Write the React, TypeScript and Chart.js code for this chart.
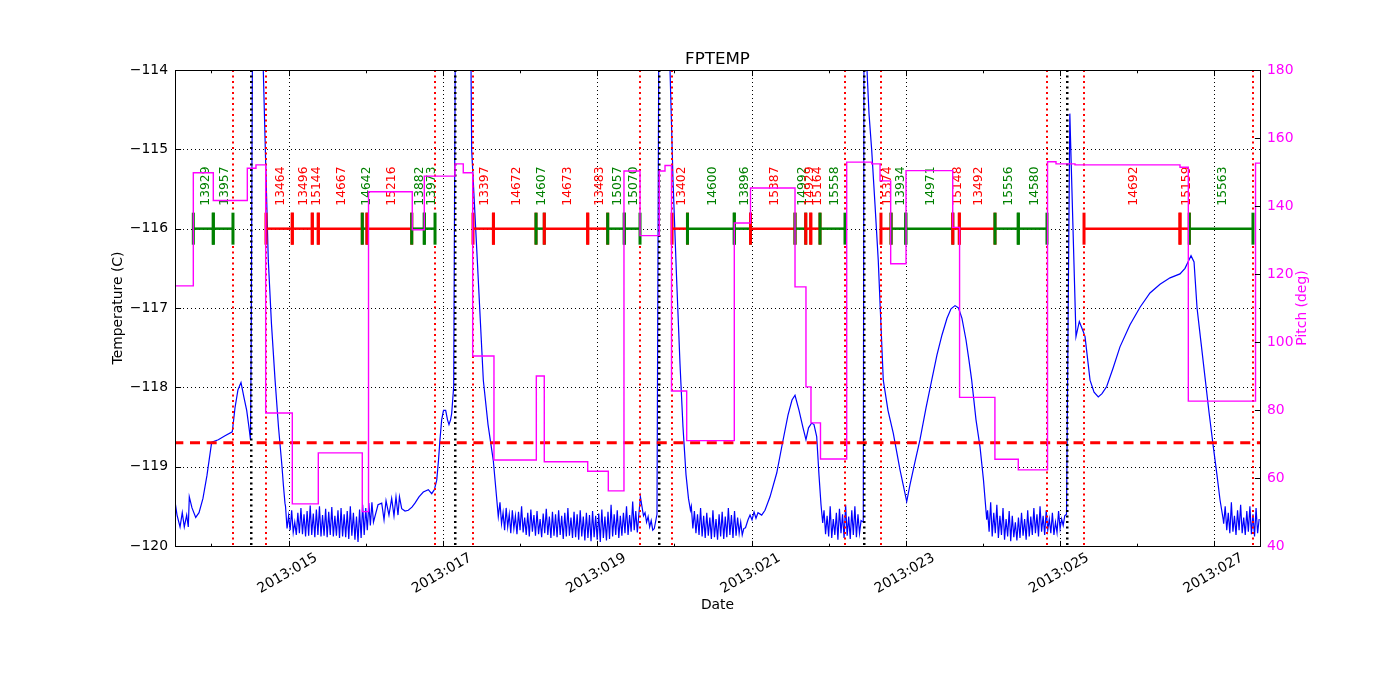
import React, { useEffect, useRef } from 'react';
import { Chart, registerables } from 'chart.js';

Chart.register(...registerables);

const FONT = 'DejaVu Sans';
const RED = '#ff0000';
const GREEN = '#008000';
const BLUE = '#0000ff';
const MAGENTA = '#ff00ff';

// ---- Date axis (day of year, 2013) ----
const X_MIN = 13.5276;
const X_MAX = 27.591;
const majorDays = [15, 17, 19, 21, 23, 25, 27];
const majorLabels = ['2013:015', '2013:017', '2013:019', '2013:021', '2013:023', '2013:025', '2013:027'];
const minorDays = [14, 16, 18, 20, 22, 24, 26];

// ---- Value axes ----
const tempTicks = [-120, -119, -118, -117, -116, -115, -114];
const pitchTicks = [40, 60, 80, 100, 120, 140, 160, 180];

const LIMIT_TEMP = -118.7;
const SEGMENT_TEMP = -116;

// ---- Event lines ----
const redLineDays = [14.279, 14.707, 16.898, 17.39, 19.555, 19.97, 22.212, 22.678, 24.83, 25.31, 27.5];
const blackLineDays = [14.513, 17.157, 19.801, 22.458, 25.089];

// ---- Observation segments ----
const segStarts = [13.765, 14.024, 14.707, 15.048, 15.307, 15.385, 15.955, 16.016, 16.596, 16.759, 17.39, 17.655, 18.207, 18.314, 18.877, 19.136, 19.351, 19.97, 20.17, 20.777, 20.987, 21.564, 21.703, 21.768, 21.888, 22.678, 22.809, 23.0, 23.609, 23.694, 24.156, 24.458, 25.31, 26.554, 26.675];
const segEnds = [14.024, 14.279, 15.048, 15.307, 15.385, 15.955, 16.016, 16.596, 16.759, 16.898, 17.655, 18.207, 18.314, 18.877, 19.136, 19.351, 19.555, 20.17, 20.777, 20.987, 21.564, 21.703, 21.768, 21.888, 22.212, 22.809, 23.0, 23.609, 23.694, 24.156, 24.458, 24.83, 26.554, 26.675, 27.5];
const segObsids = ['13929', '13957', '13464', '13496', '15144', '14667', '14642', '15216', '13882', '13973', '13397', '14672', '14607', '14673', '13483', '15057', '15070', '13402', '14600', '13896', '15387', '14992', '14929', '15164', '15558', '15374', '13934', '14971', '15148', '13492', '15556', '14580', '14692', '15159', '15563'];
const segKinds = ['g', 'g', 'r', 'r', 'r', 'r', 'g', 'r', 'g', 'g', 'r', 'r', 'g', 'r', 'r', 'g', 'g', 'r', 'g', 'g', 'r', 'g', 'r', 'r', 'g', 'r', 'g', 'g', 'r', 'r', 'g', 'g', 'r', 'r', 'g'];

// ---- Pitch (deg), step changes: day, value ----
const pitchDays = [13.528, 13.765, 14.024, 14.465, 14.577, 14.703, 15.048, 15.385, 15.955, 16.036, 16.603, 16.759, 17.157, 17.264, 17.386, 17.662, 18.211, 18.314, 18.877, 19.144, 19.347, 19.555, 19.805, 19.879, 19.963, 20.16, 20.777, 20.987, 21.564, 21.706, 21.771, 21.894, 22.234, 22.558, 22.666, 22.804, 23.003, 23.608, 23.697, 24.155, 24.458, 24.837, 24.947, 25.193, 26.554, 26.662, 27.533, 27.591];
const pitchVals = [116.5, 149.8, 141.6, 151.1, 152.1, 79.1, 52.4, 67.4, 50.1, 144.2, 133.0, 148.8, 152.4, 149.8, 95.9, 65.3, 90.0, 64.8, 62.0, 56.2, 150.3, 131.3, 150.3, 151.9, 85.6, 71.0, 135.0, 145.3, 116.2, 86.8, 76.2, 65.6, 152.9, 152.4, 147.4, 123.0, 150.4, 133.7, 83.7, 65.5, 62.4, 153.0, 152.4, 152.1, 151.4, 82.6, 152.6, 152.6];

// ---- Temperature (C): slow-varying samples [day, value] ----
const tempPass1: [number, number][] = [
  [13.528, -119.44], [13.554, -119.61], [13.593, -119.76], [13.622, -119.58], [13.648, -119.76], [13.679, -119.61],
  [13.7, -119.76], [13.713, -119.38], [13.748, -119.52], [13.796, -119.64], [13.839, -119.58], [13.89, -119.4],
  [13.942, -119.11], [14.003, -118.69], [14.089, -118.66], [14.176, -118.61], [14.27, -118.56], [14.305, -118.26],
  [14.344, -118.03], [14.383, -117.94], [14.422, -118.13], [14.457, -118.29], [14.487, -118.51], [14.506, -118.66],
  [14.515, -117.5], [14.539, -112.0], [14.59, -104.0], [14.672, -114.0], [14.701, -115.1], [14.737, -116.4],
  [14.778, -117.2], [14.824, -117.9], [14.869, -118.5], [14.911, -118.96], [14.934, -119.25], [14.953, -119.46],
];
const tempPass2: [number, number][] = [
  [16.159, -119.48], [16.207, -119.46], [16.237, -119.67], [16.263, -119.43], [16.301, -119.61], [16.336, -119.4],
  [16.366, -119.62], [16.392, -119.38], [16.418, -119.61], [16.437, -119.38], [16.466, -119.53], [16.509, -119.56],
  [16.552, -119.55], [16.599, -119.51], [16.638, -119.46], [16.69, -119.38], [16.746, -119.32], [16.811, -119.29],
  [16.855, -119.34], [16.889, -119.29], [16.92, -119.17], [16.943, -118.92], [16.962, -118.66], [16.984, -118.41],
  [17.008, -118.29], [17.036, -118.29], [17.06, -118.41], [17.079, -118.47], [17.099, -118.41], [17.114, -118.33],
  [17.14, -117.99], [17.235, -98.0], [17.373, -115.01], [17.446, -116.4], [17.524, -117.91], [17.585, -118.47],
  [17.653, -118.92], [17.688, -119.3], [17.718, -119.63],
];
const tempPass3: [number, number][] = [
  [19.775, -119.6], [19.86, -98.0], [19.944, -114.0], [19.983, -115.4], [20.028, -116.6], [20.073, -117.7],
  [20.112, -118.5], [20.151, -119.1], [20.183, -119.4], [20.209, -119.55],
];
const tempPass4: [number, number][] = [
  [20.922, -119.77], [20.955, -119.67], [20.981, -119.61], [21.007, -119.67], [21.033, -119.57], [21.058, -119.65],
  [21.084, -119.58], [21.132, -119.61], [21.175, -119.55], [21.24, -119.38], [21.327, -119.08], [21.396, -118.73],
  [21.473, -118.35], [21.525, -118.16], [21.564, -118.1], [21.616, -118.29], [21.668, -118.51], [21.706, -118.66],
  [21.739, -118.51], [21.78, -118.45], [21.81, -118.47], [21.845, -118.62], [21.875, -119.11], [21.901, -119.48],
  [21.923, -119.71],
];
const tempPass5: [number, number][] = [
  [22.449, -119.7], [22.475, -102.0], [22.497, -114.0], [22.523, -114.55], [22.558, -115.01], [22.601, -115.7],
  [22.643, -116.4], [22.708, -117.91], [22.769, -118.29], [22.838, -118.58], [22.925, -119.04], [23.012, -119.44],
  [23.054, -119.23], [23.119, -118.94], [23.184, -118.66], [23.262, -118.26], [23.336, -117.91], [23.404, -117.59],
  [23.469, -117.34], [23.534, -117.13], [23.586, -117.01], [23.638, -116.97], [23.683, -117.0], [23.728, -117.13],
  [23.78, -117.4], [23.819, -117.66], [23.854, -117.91], [23.91, -118.41], [23.962, -118.75], [24.007, -119.17],
  [24.049, -119.67],
];
const tempPass6: [number, number][] = [
  [25.083, -119.6], [25.126, -114.55], [25.206, -117.36], [25.249, -117.17], [25.301, -117.3], [25.323, -117.36],
  [25.388, -117.91], [25.44, -118.06], [25.495, -118.12], [25.543, -118.08], [25.604, -117.99], [25.686, -117.76],
  [25.776, -117.49], [25.906, -117.21], [26.036, -116.99], [26.165, -116.81], [26.295, -116.7], [26.425, -116.62],
  [26.554, -116.57], [26.619, -116.5], [26.658, -116.42], [26.697, -116.34], [26.736, -116.42], [26.775, -117.0],
  [26.827, -117.44], [26.879, -117.88], [26.931, -118.32], [26.986, -118.75], [27.034, -119.11], [27.073, -119.42],
  [27.115, -119.67],
];

// ---- Temperature (C): fast telemetry samples every NOISE_STEP days ----
const NOISE_STEP = 0.02;
const noise1Start = 14.96;
const noise1 = [-119.5, -119.78, -119.62, -119.8, -119.55, -119.83, -119.7, -119.86, -119.58, -119.84, -119.52, -119.85, -119.6, -119.88, -119.56, -119.87, -119.49, -119.86, -119.59, -119.89, -119.54, -119.86, -119.5, -119.88, -119.61, -119.87, -119.53, -119.89, -119.57, -119.86, -119.51, -119.88, -119.62, -119.87, -119.55, -119.9, -119.52, -119.88, -119.6, -119.89, -119.56, -119.91, -119.5, -119.87, -119.58, -119.92, -119.63, -119.95, -119.54, -119.9, -119.48, -119.86, -119.52, -119.8, -119.46, -119.74, -119.45, -119.7];
const noise2Start = 17.74;
const noise2 = [-119.45, -119.72, -119.58, -119.8, -119.52, -119.76, -119.6, -119.84, -119.55, -119.78, -119.62, -119.85, -119.57, -119.8, -119.5, -119.83, -119.64, -119.86, -119.58, -119.88, -119.54, -119.82, -119.61, -119.87, -119.56, -119.85, -119.66, -119.89, -119.59, -119.84, -119.53, -119.86, -119.63, -119.9, -119.57, -119.87, -119.6, -119.89, -119.55, -119.86, -119.62, -119.91, -119.58, -119.88, -119.52, -119.87, -119.64, -119.9, -119.57, -119.89, -119.6, -119.92, -119.55, -119.88, -119.63, -119.93, -119.58, -119.9, -119.61, -119.94, -119.56, -119.89, -119.62, -119.92, -119.59, -119.95, -119.54, -119.9, -119.63, -119.93, -119.57, -119.91, -119.48, -119.88, -119.6, -119.86, -119.55, -119.9, -119.62, -119.87, -119.58, -119.84, -119.5, -119.86, -119.61, -119.82, -119.44, -119.8, -119.56, -119.83, -119.6, -119.38, -119.5, -119.62, -119.58, -119.7, -119.63, -119.76, -119.68, -119.8, -119.78];
const noise3Start = 20.22;
const noise3 = [-119.5, -119.78, -119.56, -119.84, -119.6, -119.86, -119.52, -119.88, -119.62, -119.9, -119.58, -119.87, -119.64, -119.91, -119.55, -119.89, -119.66, -119.92, -119.6, -119.88, -119.57, -119.91, -119.63, -119.89, -119.52, -119.86, -119.61, -119.9, -119.56, -119.87, -119.64, -119.84, -119.7, -119.86, -119.78];
const noise4Start = 21.94;
const noise4 = [-119.55, -119.85, -119.62, -119.88, -119.5, -119.9, -119.66, -119.86, -119.58, -119.92, -119.53, -119.84, -119.6, -119.9, -119.48, -119.87, -119.63, -119.91, -119.55, -119.86, -119.5, -119.89, -119.6, -119.84, -119.68];
const noise5Start = 24.06;
const noise5 = [-119.55, -119.82, -119.45, -119.88, -119.58, -119.84, -119.48, -119.9, -119.62, -119.86, -119.52, -119.92, -119.66, -119.88, -119.56, -119.94, -119.62, -119.89, -119.7, -119.93, -119.64, -119.9, -119.58, -119.87, -119.66, -119.92, -119.55, -119.88, -119.63, -119.86, -119.52, -119.84, -119.6, -119.88, -119.5, -119.82, -119.62, -119.86, -119.55, -119.8, -119.66, -119.84, -119.58, -119.86, -119.7, -119.83, -119.56, -119.78, -119.66, -119.74, -119.62];
const noise6Start = 27.12;
const noise6 = [-119.72, -119.5, -119.8, -119.58, -119.84, -119.45, -119.82, -119.62, -119.86, -119.55, -119.8, -119.48, -119.84, -119.64, -119.86, -119.56, -119.82, -119.5, -119.85, -119.6, -119.88, -119.52, -119.84, -119.66];

function buildTemperature() {
  const pts: { x: number; y: number }[] = [];
  [tempPass1, tempPass2, tempPass3, tempPass4, tempPass5, tempPass6].forEach((arr) =>
    arr.forEach(([d, v]) => pts.push({ x: d, y: v }))
  );
  const addRun = (start: number, vals: number[]) =>
    vals.forEach((v, i) => pts.push({ x: start + i * NOISE_STEP, y: v }));
  addRun(noise1Start, noise1);
  addRun(noise2Start, noise2);
  addRun(noise3Start, noise3);
  addRun(noise4Start, noise4);
  addRun(noise5Start, noise5);
  addRun(noise6Start, noise6);
  pts.sort((a, b) => a.x - b.x);
  return pts;
}

function buildPitch() {
  return pitchDays.map((d, i) => ({ x: d, y: pitchVals[i] }));
}

function strokeLine(ctx: CanvasRenderingContext2D, x0: number, y0: number, x1: number, y1: number) {
  ctx.beginPath();
  ctx.moveTo(x0, y0);
  ctx.lineTo(x1, y1);
  ctx.stroke();
}

const overlayPlugin = {
  id: 'overlay',
  beforeDatasetsDraw(chart: any) {
    const { ctx, chartArea: a, scales } = chart;
    const xs = scales.x;
    const ys = scales.y;
    ctx.save();
    ctx.strokeStyle = '#000';
    ctx.lineWidth = 1;
    ctx.setLineDash([1, 3]);
    tempTicks.forEach((t) => {
      if (t === -120 || t === -114) return;
      const py = Math.round(ys.getPixelForValue(t)) + 0.5;
      strokeLine(ctx, a.left, py, a.right, py);
    });
    majorDays.forEach((d) => {
      const px = Math.round(xs.getPixelForValue(d)) + 0.5;
      strokeLine(ctx, px, a.top, px, a.bottom);
    });
    ctx.restore();
  },
  afterDatasetDraw(chart: any, args: any) {
    if (args.index !== 0) return;
    const { ctx, chartArea: a, scales } = chart;
    const xs = scales.x;
    const ys = scales.y;
    ctx.save();
    ctx.beginPath();
    ctx.rect(a.left, a.top, a.right - a.left, a.bottom - a.top);
    ctx.clip();

    // limit line
    const ly = ys.getPixelForValue(LIMIT_TEMP);
    ctx.strokeStyle = RED;
    ctx.lineWidth = 3;
    ctx.setLineDash([10, 6.67]);
    ctx.lineDashOffset = 1.67;
    strokeLine(ctx, a.left, ly, a.right, ly);
    ctx.lineDashOffset = 0;

    // dotted event lines
    ctx.setLineDash([2, 3.5]);
    ctx.lineWidth = 2;
    ctx.strokeStyle = RED;
    redLineDays.forEach((d) => {
      const px = Math.round(xs.getPixelForValue(d));
      strokeLine(ctx, px, a.top, px, a.bottom);
    });
    ctx.strokeStyle = '#000';
    ctx.lineWidth = 2.5;
    blackLineDays.forEach((d) => {
      const px = Math.round(xs.getPixelForValue(d)) + 0.25;
      strokeLine(ctx, px, a.top, px, a.bottom);
    });

    // observation segments
    ctx.setLineDash([]);
    const sy = ys.getPixelForValue(SEGMENT_TEMP);
    segStarts.forEach((s, i) => {
      const c = segKinds[i] === 'g' ? GREEN : RED;
      const x0 = xs.getPixelForValue(s);
      const x1 = xs.getPixelForValue(segEnds[i]);
      ctx.strokeStyle = c;
      ctx.lineWidth = 2.5;
      strokeLine(ctx, x0, sy, x1, sy);
      ctx.lineWidth = 3;
      strokeLine(ctx, x0, sy - 16, x0, sy + 16);
      strokeLine(ctx, x1, sy - 16, x1, sy + 16);
    });
    ctx.font = `12.3px "${FONT}"`;
    ctx.textAlign = 'left';
    ctx.textBaseline = 'middle';
    segStarts.forEach((s, i) => {
      const c = segKinds[i] === 'g' ? GREEN : RED;
      const xm = xs.getPixelForValue((s + segEnds[i]) / 2) + 2;
      ctx.save();
      ctx.translate(xm, sy - 23);
      ctx.rotate(-Math.PI / 2);
      ctx.fillStyle = c;
      ctx.fillText(segObsids[i], 0, 0);
      ctx.restore();
    });
    ctx.restore();
  },
  afterDraw(chart: any) {
    const { ctx, chartArea: a, scales } = chart;
    const xs = scales.x;
    const ys = scales.y;
    const ys2 = scales.y2;
    ctx.save();
    ctx.setLineDash([]);
    ctx.strokeStyle = '#000';
    ctx.lineWidth = 1;
    const L = Math.round(a.left) + 0.5;
    const R = Math.round(a.right) + 0.5;
    const T = Math.round(a.top) + 0.5;
    const B = Math.round(a.bottom) + 0.5;
    ctx.strokeRect(L, T, R - L, B - T);

    // inward tick marks
    const major = 5.6;
    const minor = 2.8;
    majorDays.forEach((d) => {
      const px = Math.round(xs.getPixelForValue(d)) + 0.5;
      strokeLine(ctx, px, B, px, B - major);
      strokeLine(ctx, px, T, px, T + major);
    });
    minorDays.forEach((d) => {
      const px = Math.round(xs.getPixelForValue(d)) + 0.5;
      strokeLine(ctx, px, B, px, B - minor);
      strokeLine(ctx, px, T, px, T + minor);
    });
    tempTicks.forEach((t) => {
      const py = Math.round(ys.getPixelForValue(t)) + 0.5;
      strokeLine(ctx, L, py, L + major, py);
    });
    pitchTicks.forEach((p) => {
      const py = Math.round(ys2.getPixelForValue(p)) + 0.5;
      strokeLine(ctx, R, py, R - major, py);
    });

    // date tick labels, rotated
    ctx.fillStyle = '#000';
    ctx.font = `13.9px "${FONT}"`;
    ctx.textAlign = 'center';
    ctx.textBaseline = 'middle';
    majorDays.forEach((d, i) => {
      const px = xs.getPixelForValue(d);
      ctx.save();
      ctx.translate(px - 1, a.bottom + 27.5);
      ctx.rotate(-Math.PI / 6);
      ctx.fillText(majorLabels[i], 0, 0);
      ctx.restore();
    });

    // axis titles
    const cx = (a.left + a.right) / 2;
    const cy = (a.top + a.bottom) / 2;
    ctx.textBaseline = 'alphabetic';
    ctx.fillText('Date', cx, a.bottom + 63);
    ctx.font = `16.7px "${FONT}"`;
    ctx.fillText('FPTEMP', cx, a.top - 6);
    ctx.font = `13.9px "${FONT}"`;
    ctx.textBaseline = 'middle';
    ctx.save();
    ctx.translate(a.left - 57, cy);
    ctx.rotate(-Math.PI / 2);
    ctx.fillText('Temperature (C)', 0, 0);
    ctx.restore();
    ctx.save();
    ctx.translate(a.right + 42, cy);
    ctx.rotate(-Math.PI / 2);
    ctx.fillStyle = MAGENTA;
    ctx.fillText('Pitch (deg)', 0, 0);
    ctx.restore();
    ctx.restore();
  },
};

export default function App() {
  const ref = useRef<HTMLCanvasElement | null>(null);
  useEffect(() => {
    const canvas = ref.current;
    if (!canvas) return;
    const chart = new Chart(canvas, {
      type: 'line',
      data: {
        datasets: [
          {
            label: 'FPTEMP',
            data: buildTemperature(),
            yAxisID: 'y',
            borderColor: BLUE,
            borderWidth: 1.2,
            pointRadius: 0,
            pointHoverRadius: 0,
            tension: 0,
            fill: false,
            order: 1,
          },
          {
            label: 'Pitch',
            data: buildPitch(),
            yAxisID: 'y2',
            borderColor: MAGENTA,
            borderWidth: 1.4,
            pointRadius: 0,
            pointHoverRadius: 0,
            stepped: 'before',
            fill: false,
            order: 0,
          },
        ],
      },
      options: {
        responsive: false,
        maintainAspectRatio: false,
        animation: false,
        events: [],
        layout: { padding: { top: 70, left: 0, right: 0, bottom: 0 } },
        plugins: {
          legend: { display: false },
          tooltip: { enabled: false },
          title: { display: false },
        },
        scales: {
          x: {
            type: 'linear',
            min: X_MIN,
            max: X_MAX,
            ticks: { display: false },
            grid: { display: false, drawTicks: false },
            border: { display: false },
            afterFit: (s: any) => {
              s.height = 154;
            },
          },
          y: {
            type: 'linear',
            position: 'left',
            min: -120,
            max: -114,
            ticks: {
              stepSize: 1,
              padding: 7,
              color: '#000',
              font: { family: FONT, size: 13.9 },
              callback: (v: any) => (Number(v) < 0 ? '\u2212' + Math.abs(Number(v)) : String(v)),
            },
            grid: { display: false, drawTicks: false },
            border: { display: false },
            afterFit: (s: any) => {
              s.width = 175;
            },
          },
          y2: {
            type: 'linear',
            position: 'right',
            min: 40,
            max: 180,
            ticks: {
              stepSize: 20,
              padding: 7,
              color: MAGENTA,
              font: { family: FONT, size: 13.9 },
            },
            grid: { display: false, drawTicks: false },
            border: { display: false },
            afterFit: (s: any) => {
              s.width = 140;
            },
          },
        },
      },
      plugins: [overlayPlugin],
    } as any);
    return () => chart.destroy();
  }, []);
  return (
    <canvas
      ref={ref}
      width={1400}
      height={700}
      style={{ position: 'absolute', left: 0, top: 0, display: 'block' }}
    />
  );
}
